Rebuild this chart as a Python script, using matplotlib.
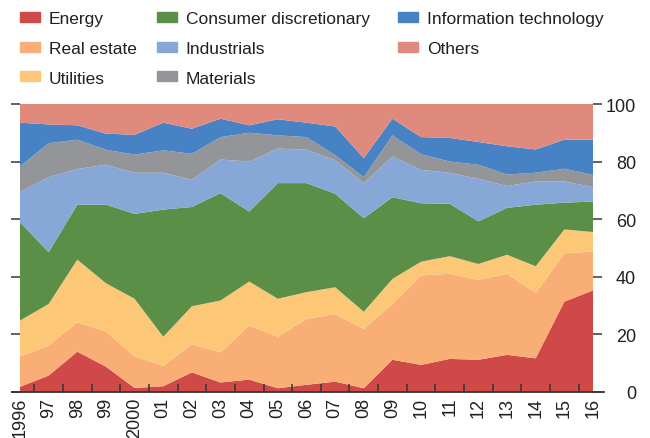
import matplotlib
matplotlib.use("Agg")
import matplotlib.pyplot as plt
import numpy as np
from matplotlib.lines import Line2D

plt.rcParams['font.family'] = ['Liberation Sans Narrow', 'Liberation Sans', 'DejaVu Sans']

years = ["1996", "97", "98", "99", "2000", "01", "02", "03", "04", "05", "06",
         "07", "08", "09", "10", "11", "12", "13", "14", "15", "16"]

energy = [1.7, 5.6, 13.9, 8.7, 1.3, 1.9, 6.7, 3.2, 4.2, 1.2, 2.4,
          3.5, 1.2, 11.1, 9.3, 11.4, 11.1, 12.8, 11.6, 31.3, 35.2]
real_estate = [10.5, 10.4, 10.2, 12.2, 11.0, 7.1, 9.7, 10.5, 18.8, 17.9, 22.9,
               23.5, 20.6, 19.4, 31.1, 29.6, 27.8, 28.2, 22.7, 16.8, 13.5]
utilities = [12.5, 14.5, 21.8, 16.8, 20.0, 10.1, 13.3, 18.0, 15.3, 13.2, 9.3,
             9.3, 6.0, 8.7, 4.8, 6.1, 5.5, 6.6, 9.3, 8.3, 6.8]
consumer_disc = [34.2, 18.0, 19.1, 27.3, 29.5, 44.2, 34.5, 37.3, 24.3, 40.2, 37.9,
                 32.5, 32.5, 28.4, 20.3, 18.2, 14.8, 16.3, 21.4, 9.3, 10.6]
industrials = [10.5, 26.1, 12.4, 13.9, 14.3, 12.8, 9.5, 11.7, 17.4, 12.0, 11.6,
               11.6, 12.2, 14.2, 11.6, 10.8, 14.8, 7.6, 8.1, 7.4, 5.0]
materials = [8.9, 11.8, 10.2, 5.2, 6.3, 7.8, 9.0, 7.8, 10.0, 4.6, 4.4,
             1.8, 2.1, 7.3, 5.4, 3.9, 4.9, 4.0, 3.0, 4.4, 4.3]
info_tech = [15.2, 6.5, 5.0, 5.6, 6.9, 9.6, 8.7, 6.4, 2.6, 5.6, 5.0,
             10.0, 6.6, 5.8, 6.0, 8.2, 7.9, 9.8, 8.1, 10.1, 12.2]
others = [6.5, 7.1, 7.4, 10.3, 10.7, 6.5, 8.6, 5.1, 7.4, 5.3, 6.5,
          7.8, 18.8, 5.1, 11.5, 11.8, 13.2, 14.7, 15.8, 12.4, 12.4]

labels = ["Energy", "Real estate", "Utilities", "Consumer discretionary",
          "Industrials", "Materials", "Information technology", "Others"]
colors = ["#CF4948", "#F8AE74", "#FCC878", "#5B8E47",
          "#87A8D6", "#949598", "#4783C4", "#E08A7D"]

series = [energy, real_estate, utilities, consumer_disc,
          industrials, materials, info_tech, others]

PX = 72 / 100  # points per pixel

fig = plt.figure(figsize=(6.5, 4.39), dpi=100)
ax = fig.add_axes([20/650, 1-392.7/439, 573/650, (392.7-105)/439])

x = np.arange(len(years))
ax.stackplot(x, *series, colors=colors, labels=labels, linewidth=0)

ax.set_xlim(0, len(years)-1)
ax.set_ylim(0, 100)

for s in ["top", "left", "right", "bottom"]:
    ax.spines[s].set_visible(False)

ax.add_line(Line2D([-8/573, 1+11/573], [0, 0], transform=ax.transAxes,
                   color="#333333", lw=1.8*PX, clip_on=False, zorder=5))

ax.set_xticks(x)
ax.set_xticklabels(years, rotation=90, fontsize=13, color="#231F20")
ax.tick_params(axis='x', which='major', length=0, pad=5*PX)
ax.set_xticks(x[:-1] + 0.5, minor=True)
ax.tick_params(axis='x', which='minor', direction='in', length=8*PX, width=1.5*PX,
               color="#333333", bottom=True)

ax.set_yticks([0, 20, 40, 60, 80, 100])
ax.tick_params(axis='y', left=True, right=True, labelleft=False, labelright=True,
               direction='out', length=9*PX, width=1.5*PX, color="#333333",
               labelsize=13, labelcolor="#231F20", pad=34*PX)
for t in ax.yaxis.get_major_ticks():
    t.label2.set_horizontalalignment('right')

handles = [plt.Rectangle((0, 0), 1, 1, color=c) for c in colors]
groups = [(0, 3, 20), (3, 6, 157), (6, 8, 398)]
for a, b, xpos in groups:
    leg = fig.legend(handles[a:b], labels[a:b], ncol=1, loc="upper left",
                     bbox_to_anchor=(xpos/650, 1-12/439), frameon=False,
                     fontsize=12.5, handlelength=1.15, handleheight=0.5,
                     handletextpad=0.5, labelspacing=0.85,
                     borderaxespad=0, borderpad=0.0)
    for t in leg.get_texts():
        t.set_color("#231F20")

fig.savefig("out.png", dpi=100)
